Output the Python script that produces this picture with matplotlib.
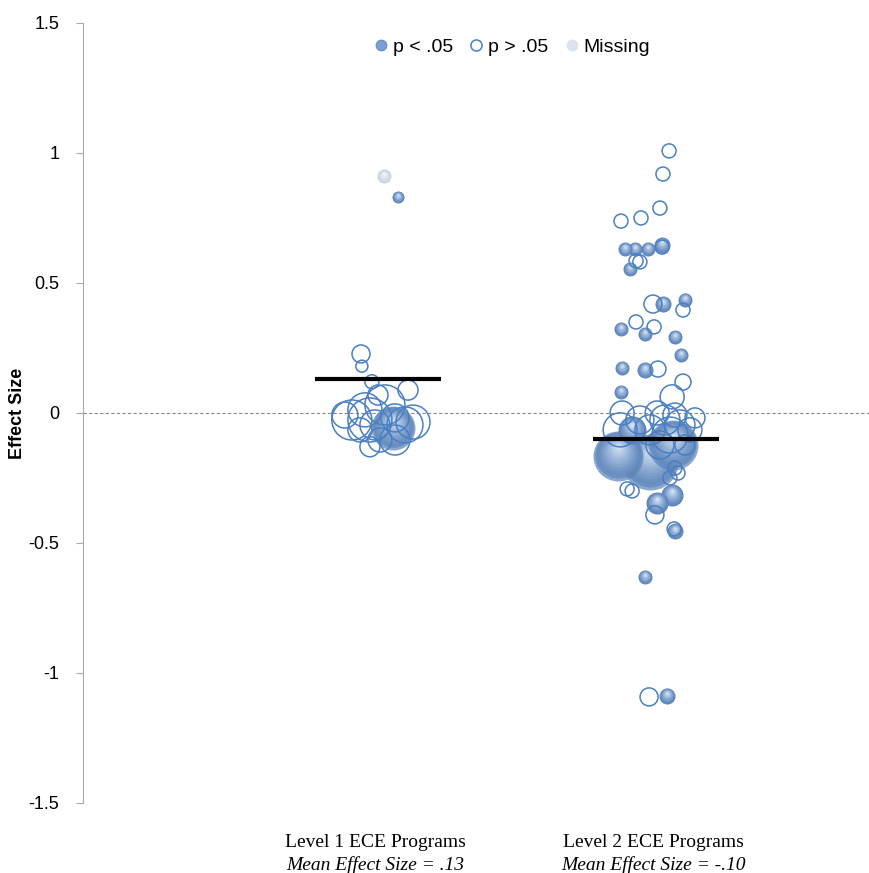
import numpy as np
import matplotlib.pyplot as plt
from matplotlib.lines import Line2D
from matplotlib.colors import to_rgb

# Study-level effect sizes by program level.
# dx = horizontal jitter around the group position, es = effect size,
# w = bubble radius (study weight), sig: 1 = p < .05, 0 = p > .05, -1 = missing
lvl1_dx = [0.022, 0.072, -0.061, -0.058, -0.022, 0.108, 0.054,
           -0.094, 0.126, -0.029, -0.047, 0.025, -0.011, 0.061,
           -0.065, -0.119, 0.007, 0.0, 0.061, -0.029, 0.097]
lvl1_es = [0.91, 0.83, 0.227, 0.18, 0.12, 0.088, -0.058,
           -0.027, -0.035, -0.13, 0.012, 0.031, -0.046, -0.019,
           -0.065, -0.008, -0.104, 0.069, -0.104, -0.027, -0.046]
lvl1_w = [7, 6, 9, 6, 7, 10, 22,
          20, 17, 10, 17, 20, 15, 14,
          12, 13, 12, 10, 15, 22, 18]
lvl1_sig = [-1, 1, 0, 0, 0, 0, 1,
            0, 0, 0, 0, 0, 0, 0,
            0, 0, 0, 0, 0, 0, 0]

lvl2_dx = [0.047, 0.025, 0.014, -0.126, -0.054,
           -0.112, -0.076, -0.029, 0.022, 0.022, -0.072, -0.058, -0.094,
           -0.011, 0.025, 0.104, 0.097, -0.072, -0.126, -0.04, -0.007,
           0.068, 0.09, -0.122, -0.04, 0.007, -0.126, 0.097, 0.058,
           -0.122, -0.129, 0.004, -0.137, -0.022, 0.061, -0.086,
           0.032, 0.086, 0.122, 0.05, -0.022, 0.068, 0.104, 0.014, -0.058, 0.14,
           0.079, 0.068, 0.05, -0.104, -0.086, 0.058, 0.004, -0.004,
           0.068, 0.065, -0.04, -0.025, 0.04]
lvl2_es = [1.008, 0.919, 0.788, 0.738, 0.75,
           0.631, 0.631, 0.631, 0.646, 0.638, 0.585, 0.581, 0.554,
           0.419, 0.419, 0.435, 0.396, 0.35, 0.323, 0.304, 0.331,
           0.292, 0.223, 0.173, 0.165, 0.169, 0.081, 0.119, 0.062,
           0.0, -0.065, 0.0, -0.165, -0.188, -0.123, -0.065,
           -0.027, -0.046, -0.065, -0.085, -0.065, -0.008, -0.123, -0.123, -0.027, -0.019,
           -0.231, -0.212, -0.25, -0.292, -0.3, -0.315, -0.346, -0.392,
           -0.454, -0.446, -0.631, -1.092, -1.088]
lvl2_w = [7, 7, 7, 7, 7,
          7, 7, 7, 8, 7, 7, 7, 7,
          9, 8, 7, 7, 7, 7, 7, 7,
          7, 7, 7, 8, 8, 7, 8, 12,
          12, 17, 12, 25, 28, 25, 14,
          15, 15, 12, 18, 15, 12, 10, 14, 14, 10,
          7, 7, 7, 7, 7, 11, 11, 9,
          8, 7, 7, 9, 8]
lvl2_sig = [0, 0, 0, 0, 0,
            1, 1, 1, 1, 0, 0, 0, 1,
            0, 1, 1, 0, 0, 1, 1, 0,
            1, 1, 1, 1, 0, 1, 0, 0,
            0, 0, 0, 1, 1, 1, 1,
            0, 0, 0, 0, 0, 0, 0, 0, 0, 0,
            0, 0, 0, 0, 0, 1, 1, 0,
            1, 0, 1, 0, 1]

groups = ["Level 1 ECE Programs", "Level 2 ECE Programs"]
mean_es = [0.13, -0.10]
mean_labels = ["Mean Effect Size = .13", "Mean Effect Size = -.10"]

open_col = "#4a7fc4"
px_per_unit_y = 260.0  # vertical pixels per effect-size unit

fig = plt.figure(figsize=(8.69, 8.73), dpi=100)
ax = fig.add_axes([0.0955, 0.0802, 0.9045, 0.8935])
ax.set_xlim(-0.061, 2.766)
ax.set_ylim(-1.5, 1.5)


def sphere(ax, x, y, r, edge, hi, alpha=1.0, nlayers=14):
    # fake shaded ball: stacked discs getting lighter and shifting upward
    edge = np.array(to_rgb(edge))
    hi = np.array(to_rgb(hi))
    for k in range(nlayers):
        f = 1 - k / nlayers
        t = (k / (nlayers - 1)) ** 1.2
        c = edge * (1 - t) + hi * t
        dy = 0.4 * r * (1 - f) / px_per_unit_y
        d_pt = 2 * r * f * 0.72
        ax.scatter([x], [y + dy], s=d_pt ** 2, color=c, alpha=alpha,
                   linewidths=0, zorder=3)


def draw_group(pos, dx, es, w, sig):
    dx, es, w, sig = map(np.asarray, (dx, es, w, sig))
    x = pos + dx
    for i in np.argsort(-w):
        if sig[i] == 1:
            a = 0.7 if w[i] > 15 else 1.0
            sphere(ax, x[i], es[i], w[i], "#5b83b9", "#d6e6f7", alpha=a)
        elif sig[i] == -1:
            sphere(ax, x[i], es[i], w[i], "#c8d3e2", "#f4f7fb")
    m = sig == 0
    ax.scatter(x[m], es[m], s=(2 * w[m] * 0.72) ** 2, facecolors="none",
               edgecolors=open_col, linewidths=1.1, zorder=4)


draw_group(1, lvl1_dx, lvl1_es, lvl1_w, lvl1_sig)
draw_group(2, lvl2_dx, lvl2_es, lvl2_w, lvl2_sig)

# group means
for pos, m in zip([1, 2], mean_es):
    ax.plot([pos - 0.225, pos + 0.225], [m, m], color="black", lw=3,
            solid_capstyle="butt", zorder=5)

ax.axhline(0, color="#888888", lw=0.8, ls=(0, (3, 2)), zorder=1)

# axes styling
for s in ["top", "right", "bottom"]:
    ax.spines[s].set_visible(False)
ax.spines["left"].set_color("#aaaaaa")
ax.set_yticks(np.arange(-1.5, 1.51, 0.5))
ax.set_yticklabels(["-1.5", "-1", "-0.5", "0", "0.5", "1", "1.5"],
                   fontsize=13, family="Liberation Sans")
ax.tick_params(axis="y", length=5, color="#aaaaaa", pad=12)
ax.set_xticks([])
ax.set_ylabel("Effect Size", fontsize=13, fontweight="bold",
              family="Liberation Sans")
ax.yaxis.set_label_coords(-0.072, 0.5)

for pos, g, ml in zip([1, 2], groups, mean_labels):
    ax.text(pos - 0.01, -0.051, g, transform=ax.get_xaxis_transform(),
            ha="center", va="center", fontsize=14, family="Liberation Serif")
    ax.text(pos - 0.01, -0.08, ml, transform=ax.get_xaxis_transform(),
            ha="center", va="center", fontsize=14, family="Liberation Serif",
            style="italic")

handles = [
    Line2D([], [], ls="", marker="o", ms=7.5, mfc="#7aa0d0", mec="#6d93c6"),
    Line2D([], [], ls="", marker="o", ms=8, mfc="none", mec=open_col, mew=1.1),
    Line2D([], [], ls="", marker="o", ms=7.5, mfc="#dbe3ee", mec="#dbe3ee"),
]
ax.legend(handles, ["p < .05", "p > .05", "Missing"], loc="center",
          bbox_to_anchor=(0.544, 0.969), ncol=3, frameon=False,
          prop={"family": "Liberation Sans", "size": 14},
          handletextpad=0.1, columnspacing=0.7, handlelength=1.0)

fig.savefig("out.png", dpi=100)
